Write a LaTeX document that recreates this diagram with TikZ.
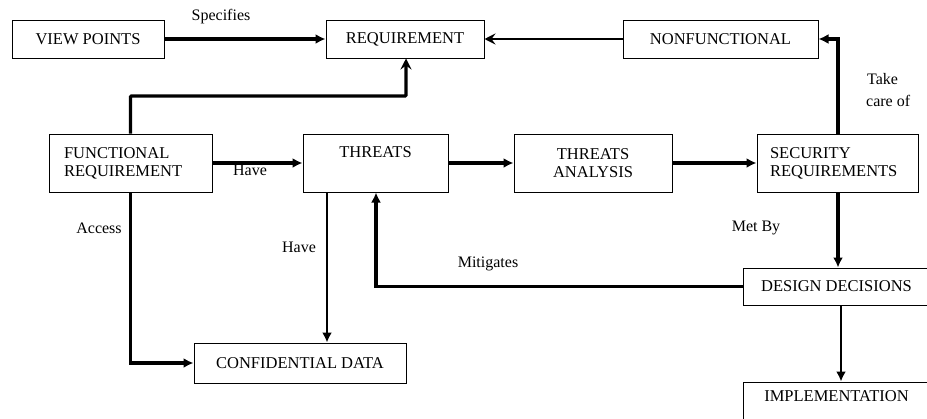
\documentclass[tikz,border=0pt]{standalone}
\usepackage{fontspec}
\setmainfont{Liberation Serif}
\usetikzlibrary{arrows.meta}
\begin{document}
\begin{tikzpicture}[x=1pt,y=-1pt,
  box/.style={draw,line width=1pt,inner sep=0pt,font=\fontsize{16.5}{18}\selectfont},
  lbl/.style={inner sep=0pt,font=\fontsize{16}{18}\selectfont},
  tri/.style={-{Latex[length=10pt,width=10pt]}},
  barb/.style={-{Stealth[length=11pt,width=11pt,inset=4pt]}},
  thick3/.style={line width=3.4pt},
  thick2/.style={line width=2.4pt}]
\clip (0,0) rectangle (927,418);
\useasboundingbox (0,0) rectangle (927,418);
\fill[white] (0,0) rectangle (927,418);
% boxes
\node[box,minimum width=152pt,minimum height=38pt] (vp) at (88,39) {VIEW POINTS};
\node[box,minimum width=158pt,minimum height=38pt] (req) at (405,39) {REQUIREMENT};
\node[box,minimum width=195pt,minimum height=38pt] (nf) at (720.5,39) {NONFUNCTIONAL};
\node[box,minimum width=163pt,minimum height=58pt,align=left,text width=133pt] (fr) at (130.5,163) {FUNCTIONAL\\REQUIREMENT};
\node[box,minimum width=145pt,minimum height=58pt,text depth=22pt] (th) at (375.5,163) {THREATS};
\node[box,minimum width=158pt,minimum height=58pt,align=center] (ta) at (593,163) {THREATS\\ANALYSIS};
\node[box,minimum width=161pt,minimum height=58pt,align=left,text width=135pt] (sr) at (837.5,163) {SECURITY\\REQUIREMENTS};
\node[box,minimum width=187pt,minimum height=37pt] (dd) at (836.5,286.5) {DESIGN DECISIONS};
\node[box,minimum width=212pt,minimum height=40pt] (cd) at (300,363) {CONFIDENTIAL DATA};
\node[box,minimum width=187pt,minimum height=60pt,text depth=32pt] (impl) at (836.5,412) {IMPLEMENTATION};
% connectors
\draw[thick3,tri] (vp.east) -- (req.west);
\draw[thick2,barb] (nf.west) -- (req.east);
\draw[thick3,barb,rounded corners=1pt] (fr.north) |- (406,96) -- (req.south -| 406,0);
\draw[thick3,tri] (sr.north -| 838,0) |- (nf.east);
\draw[thick3,tri] (fr.east) -- (th.west);
\draw[thick3,tri] (th.east) -- (ta.west);
\draw[thick3,tri] (ta.east) -- (sr.west);
\draw[thick3,tri] (sr.south -| 838,0) -- (dd.north -| 838,0);
\draw[thick3,tri] (dd.west) -| (th.south -| 376,0);
\draw[thick2,tri] (th.south -| 327,0) -- (cd.north -| 327,0);
\draw[thick3,tri] (fr.south) |- (cd.west);
\draw[thick2,tri] (dd.south -| 841,0) -- (impl.north -| 841,0);
% labels
\node[lbl] at (221,17) {Specifies};
\node[lbl,anchor=west] at (867,79) {Take};
\node[lbl,anchor=west] at (866,101) {care of};
\node[lbl] at (250,170) {Have};
\node[lbl] at (99,228) {Access};
\node[lbl] at (299,247) {Have};
\node[lbl] at (488,264) {Mitigates};
\node[lbl] at (756,228) {Met By};
\end{tikzpicture}
\end{document}
